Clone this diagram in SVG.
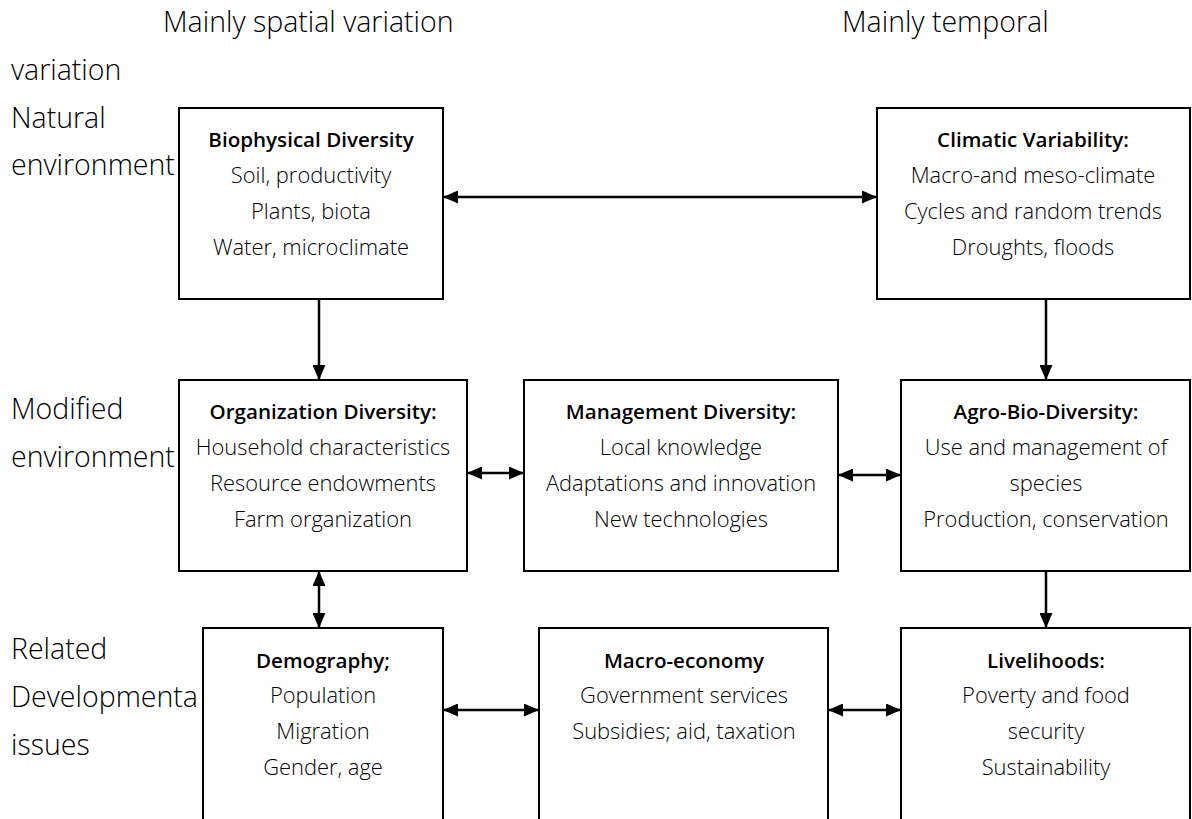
<svg xmlns="http://www.w3.org/2000/svg" width="1192" height="819" viewBox="0 0 1192 819">
<style>
  .bg{fill:#ffffff}
  .box{fill:#ffffff;stroke:#000000;stroke-width:2}
  .lbl{font-family:"Open Sans","Liberation Sans",sans-serif;font-size:28.5px;font-weight:300;fill:#000}
  .t{font-family:"Open Sans","Liberation Sans",sans-serif;font-size:20.6px;font-weight:600;fill:#000;text-anchor:middle}
  .b{font-family:"Open Sans","Liberation Sans",sans-serif;font-size:21.9px;font-weight:300;fill:#000;text-anchor:middle}
  .c{fill:none;stroke:#000;stroke-width:2.5}
</style>
<defs>
  <marker id="ah" markerUnits="userSpaceOnUse" markerWidth="15" markerHeight="13" refX="14" refY="6.5" orient="auto-start-reverse">
    <path d="M0,0 L15,6.5 L0,13 z" fill="#000"/>
  </marker>
</defs>
<rect class="bg" x="0" y="0" width="1192" height="819"/>

<g id="labels">
  <text class="lbl" x="163" y="32">Mainly spatial variation</text>
  <text class="lbl" x="842" y="32">Mainly temporal</text>
  <text class="lbl" x="11" y="80">variation</text>
  <text class="lbl" x="11" y="128">Natural</text>
  <text class="lbl" x="11" y="175">environment</text>
  <text class="lbl" x="11" y="419">Modified</text>
  <text class="lbl" x="11" y="467">environment</text>
  <text class="lbl" x="11" y="659">Related</text>
  <text class="lbl" x="11" y="707">Developmenta</text>
  <text class="lbl" x="11" y="755">issues</text>
</g>

<g id="connectors">
  <line class="c" x1="444" y1="197" x2="876" y2="197" marker-start="url(#ah)" marker-end="url(#ah)"/>
  <line class="c" x1="319" y1="300" x2="319" y2="379" marker-end="url(#ah)"/>
  <line class="c" x1="1046" y1="300" x2="1046" y2="379" marker-end="url(#ah)"/>
  <line class="c" x1="468" y1="473" x2="523" y2="473" marker-start="url(#ah)" marker-end="url(#ah)"/>
  <line class="c" x1="839" y1="475" x2="900" y2="475" marker-start="url(#ah)" marker-end="url(#ah)"/>
  <line class="c" x1="319" y1="572" x2="319" y2="627" marker-start="url(#ah)" marker-end="url(#ah)"/>
  <line class="c" x1="1046" y1="572" x2="1046" y2="627" marker-end="url(#ah)"/>
  <line class="c" x1="444" y1="710" x2="538" y2="710" marker-start="url(#ah)" marker-end="url(#ah)"/>
  <line class="c" x1="829" y1="710" x2="900" y2="710" marker-start="url(#ah)" marker-end="url(#ah)"/>
</g>

<g id="biophysical">
  <rect class="box" x="179" y="108" width="264" height="191"/>
  <text class="t" x="311" y="147">Biophysical Diversity</text>
  <text class="b" x="311" y="183">Soil, productivity</text>
  <text class="b" x="311" y="219">Plants, biota</text>
  <text class="b" x="311" y="255">Water, microclimate</text>
</g>
<g id="climatic">
  <rect class="box" x="877" y="108" width="313" height="191"/>
  <text class="t" x="1033" y="147">Climatic Variability:</text>
  <text class="b" x="1033" y="183">Macro-and meso-climate</text>
  <text class="b" x="1033" y="219">Cycles and random trends</text>
  <text class="b" x="1033" y="255">Droughts, floods</text>
</g>
<g id="organization">
  <rect class="box" x="179" y="380" width="288" height="191"/>
  <text class="t" x="323" y="419">Organization Diversity:</text>
  <text class="b" x="323" y="455">Household characteristics</text>
  <text class="b" x="323" y="491">Resource endowments</text>
  <text class="b" x="323" y="527">Farm organization</text>
</g>
<g id="management">
  <rect class="box" x="524" y="380" width="314" height="191"/>
  <text class="t" x="681" y="419">Management Diversity:</text>
  <text class="b" x="681" y="455">Local knowledge</text>
  <text class="b" x="681" y="491">Adaptations and innovation</text>
  <text class="b" x="681" y="527">New technologies</text>
</g>
<g id="agrobio">
  <rect class="box" x="901" y="380" width="289" height="191"/>
  <text class="t" x="1046" y="419">Agro-Bio-Diversity:</text>
  <text class="b" x="1046" y="455">Use and management of</text>
  <text class="b" x="1046" y="491">species</text>
  <text class="b" x="1046" y="527">Production, conservation</text>
</g>
<g id="demography">
  <rect class="box" x="203" y="628" width="240" height="210"/>
  <text class="t" x="323" y="668">Demography;</text>
  <text class="b" x="323" y="703">Population</text>
  <text class="b" x="323" y="739">Migration</text>
  <text class="b" x="323" y="775">Gender, age</text>
</g>
<g id="macroeconomy">
  <rect class="box" x="539" y="628" width="289" height="210"/>
  <text class="t" x="684" y="668">Macro-economy</text>
  <text class="b" x="684" y="703">Government services</text>
  <text class="b" x="684" y="739">Subsidies; aid, taxation</text>
</g>
<g id="livelihoods">
  <rect class="box" x="901" y="628" width="289" height="210"/>
  <text class="t" x="1046" y="668">Livelihoods:</text>
  <text class="b" x="1046" y="703">Poverty and food</text>
  <text class="b" x="1046" y="739">security</text>
  <text class="b" x="1046" y="775">Sustainability</text>
</g>
</svg>
